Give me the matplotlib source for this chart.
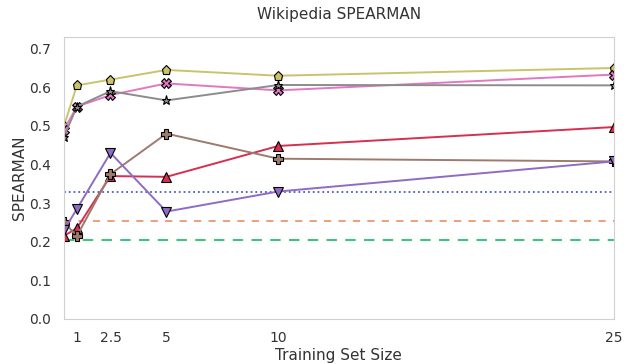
import numpy as np
import matplotlib
matplotlib.use("Agg")
import matplotlib.pyplot as plt
import seaborn as sns

sns.set_style("white")
plt.rcParams['font.family'] = ['DejaVu Sans']

# training set sizes (first point sits on the left edge)
sizes = [0.42, 1, 2.5, 5, 10, 25]
tick_sizes = [1, 2.5, 5, 10, 25]
tick_labels = ["1", "2.5", "5", "10", "25"]

olive_vals = [0.50, 0.605, 0.62, 0.645, 0.63, 0.65]
pink_vals = [0.49, 0.55, 0.58, 0.61, 0.592, 0.633]
gray_vals = [0.472, 0.55, 0.59, 0.566, 0.606, 0.605]
red_vals = [0.215, 0.235, 0.37, 0.368, 0.448, 0.497]
brown_vals = [0.25, 0.215, 0.375, 0.48, 0.415, 0.408]
purple_vals = [0.23, 0.285, 0.43, 0.278, 0.33, 0.408]

blue_base = 0.33
orange_base = 0.253
green_base = 0.205

fig, ax = plt.subplots(figsize=(6.27, 3.64), dpi=100)
fig.subplots_adjust(left=0.102, right=0.979, bottom=0.124, top=0.898)

ax.axhline(blue_base, color="#4a5fc1", linestyle=":", linewidth=1.3)
ax.axhline(orange_base, color="#eb9a6e", linestyle="--", linewidth=1.3, dashes=(4, 4))
ax.axhline(green_base, color="#3fc47f", linestyle="--", linewidth=1.5, dashes=(5, 4))

series = [
    (olive_vals, "#c9c46a", "p"),
    (pink_vals, "#e377c2", "X"),
    (gray_vals, "#8c8c8c", "*"),
    (red_vals, "#d62f4f", "^"),
    (brown_vals, "#9c7b6e", "P"),
    (purple_vals, "#8e6bc4", "v"),
]
for vals, col, mk in series:
    ax.plot(sizes, vals, color=col, marker=mk, markersize=6.5,
            markeredgecolor="black", markeredgewidth=0.8, linewidth=1.4)

ax.set_xlim(0.42, 25)
ax.set_ylim(0, 0.73)
ax.set_xticks(tick_sizes)
ax.set_xticklabels(tick_labels)
ax.set_yticks(np.arange(0, 0.71, 0.1))
ax.set_yticklabels([f"{v:.1f}" for v in np.arange(0, 0.71, 0.1)])
ax.tick_params(labelsize=10, colors="#333333", length=0, pad=9)
for s in ax.spines.values():
    s.set_color("#d0d0d0")

ax.set_title("Wikipedia SPEARMAN", fontsize=11, color="#333333", pad=13)
ax.set_xlabel("Training Set Size", fontsize=11, color="#333333", labelpad=2)
ax.set_ylabel("SPEARMAN", fontsize=11, color="#333333", labelpad=2)

fig.savefig("out.png", dpi=100)
